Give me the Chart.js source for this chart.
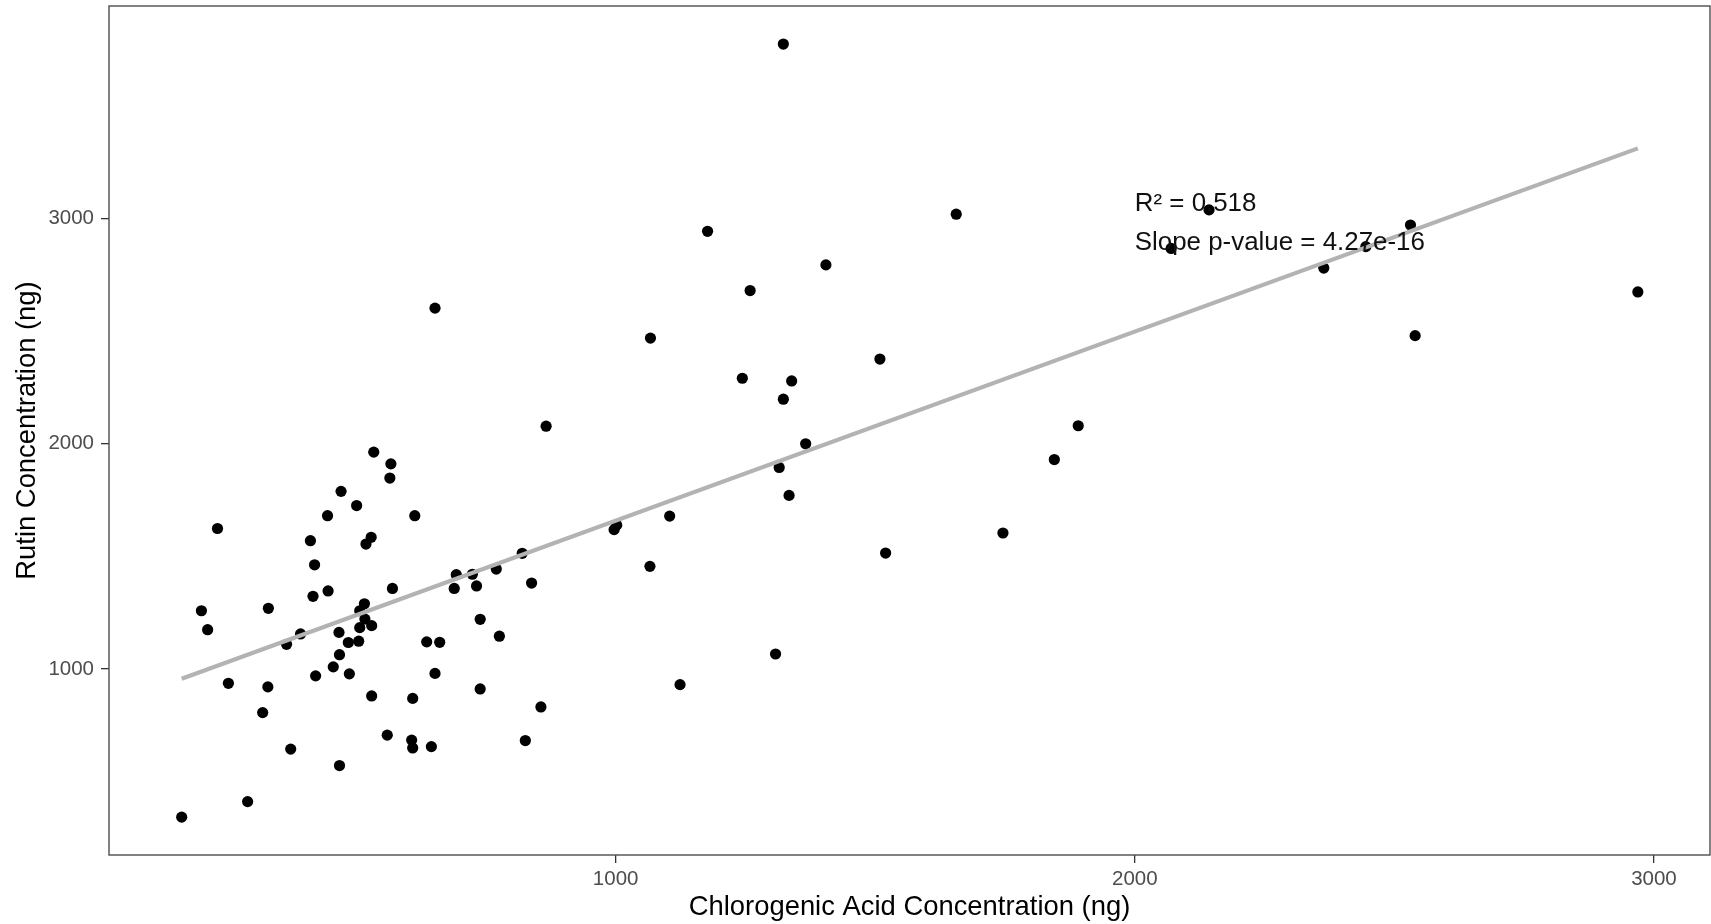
<!DOCTYPE html>
<html>
<head>
<meta charset="utf-8">
<script src="https://cdn.jsdelivr.net/npm/chart.js@4/dist/chart.umd.min.js"></script>
<style>
  html, body { margin: 0; padding: 0; background: #ffffff; overflow: hidden; }
  #wrap { width: 1711px; height: 924px; }
  canvas { display: block; }
</style>
</head>
<body>
<div id="wrap"><canvas id="chart" width="1711" height="924"></canvas></div>
<script>
// Chlorogenic acid (x) and rutin (y) per sample, in ng
const chlorogenicAcid = [164, 202, 214, 233, 254, 291, 320, 331, 330, 366,
  374, 393, 412, 417, 420, 422, 445, 446, 456, 467,
  468, 468, 471, 485, 487, 501, 505, 507, 507, 516,
  519, 517, 529, 530, 530, 534, 560, 565, 567, 570,
  607, 609, 609, 613, 636, 645, 652, 661, 689, 693,
  724, 732, 739, 739, 770, 776, 820, 826, 838, 856,
  866, 652, 1323, 1177, 1656, 1405, 1259, 1067, 1244, 1339,
  1323, 1509, 1366, 1891, 1845, 1315, 1334, 1104, 997, 1002,
  1066, 1520, 1746, 1308, 1124, 2143, 2070, 2531, 2445, 2364,
  2969, 2540];

const rutin = [343, 1259, 1175, 1624, 937, 412, 807, 1270, 921, 1110,
  645, 1156, 1570, 1323, 1463, 970, 1681, 1347, 1010, 1163,
  1064, 572, 1789, 1118, 979, 1726, 1124, 1259, 1184, 1290,
  1555, 1222, 1585, 1193, 881, 1963, 707, 1848, 1911, 1358,
  685, 650, 870, 1681, 1121, 656, 981, 1119, 1358, 1419,
  1421, 1369, 1221, 912, 1444, 1146, 1514, 683, 1382, 832,
  2078, 2602, 3774, 2943, 3019, 2794, 2680, 2469, 2291, 2279,
  2198, 2376, 2000, 2080, 1930, 1895, 1771, 1679, 1619, 1639,
  1456, 1515, 1604, 1067, 931, 3038, 2867, 2971, 2875, 2780,
  2674, 2480];

// Linear fit, drawn across the observed x range
const fitX = [164, 2969];
const fitY = [957, 3311];

const xTicks = [1000, 2000, 3000];
const yTicks = [1000, 2000, 3000];

const fitLabels = ['R\u00B2 = 0.518', 'Slope p-value = 4.27e-16'];
const fitLabelX = 2000;
const fitLabelY = [3033, 2860];

const FONT = '"Liberation Sans", Arial, Helvetica, sans-serif';

const points = chlorogenicAcid.map((x, i) => ({ x: x, y: rutin[i] }));
const fitLine = fitX.map((x, i) => ({ x: x, y: fitY[i] }));

// Panel frame and the fit statistics text, drawn over the data
const panelExtras = {
  id: 'panelExtras',
  afterDraw(chart) {
    const ctx = chart.ctx;
    const a = chart.chartArea;
    const xs = chart.scales.x, ys = chart.scales.y;
    ctx.save();
    ctx.strokeStyle = '#4d4d4d';
    ctx.lineWidth = 1.4;
    ctx.strokeRect(a.left, a.top, a.right - a.left, a.bottom - a.top);
    ctx.fillStyle = '#111111';
    ctx.font = '25.9px ' + FONT;
    ctx.textAlign = 'left';
    ctx.textBaseline = 'alphabetic';
    fitLabels.forEach((t, i) => {
      ctx.fillText(t, xs.getPixelForValue(fitLabelX), ys.getPixelForValue(fitLabelY[i]));
    });
    ctx.restore();
  }
};

function fixedTicks(values) {
  return function (scale) { scale.ticks = values.map(v => ({ value: v })); };
}

function noEdgePadding(scale) {
  scale.paddingTop = 0;
  scale.paddingBottom = 0;
  scale.paddingLeft = 0;
  scale.paddingRight = 0;
}

new Chart(document.getElementById('chart'), {
  type: 'scatter',
  data: {
    datasets: [
      {
        type: 'line',
        data: fitLine,
        borderColor: '#b3b3b3',
        borderWidth: 4.2,
        pointRadius: 0,
        fill: false,
        order: 0
      },
      {
        data: points,
        backgroundColor: '#000000',
        borderWidth: 0,
        pointRadius: 5.6,
        order: 1
      }
    ]
  },
  options: {
    responsive: false,
    animation: false,
    events: [],
    layout: { autoPadding: false, padding: { top: 6, right: 1, left: 0, bottom: 0 } },
    plugins: { legend: { display: false }, tooltip: { enabled: false } },
    scales: {
      x: {
        type: 'linear',
        min: 24,
        max: 3108,
        afterBuildTicks: fixedTicks(xTicks),
        afterFit(scale) { scale.height = 69; noEdgePadding(scale); },
        border: { display: false },
        grid: { drawOnChartArea: false, drawTicks: true, tickLength: 8, color: '#333333', lineWidth: 1.3 },
        ticks: { color: '#4d4d4d', font: { family: FONT, size: 20.5 }, padding: 4, maxRotation: 0,
                 callback: v => String(v) },
        title: { display: true, text: 'Chlorogenic Acid Concentration (ng)', color: '#000000',
                 font: { family: FONT, size: 27.4 }, padding: { top: 0, bottom: 0 } }
      },
      y: {
        type: 'linear',
        min: 175,
        max: 3943,
        afterBuildTicks: fixedTicks(yTicks),
        afterFit(scale) { scale.width = 109; noEdgePadding(scale); },
        border: { display: false },
        grid: { drawOnChartArea: false, drawTicks: true, tickLength: 8, color: '#333333', lineWidth: 1.3 },
        ticks: { color: '#4d4d4d', font: { family: FONT, size: 20.5 }, padding: 7,
                 callback: v => String(v) },
        title: { display: true, text: 'Rutin Concentration (ng)', color: '#000000',
                 font: { family: FONT, size: 27.4 }, padding: { top: 11, bottom: 0 } }
      }
    }
  },
  plugins: [panelExtras]
});
</script>
</body>
</html>
